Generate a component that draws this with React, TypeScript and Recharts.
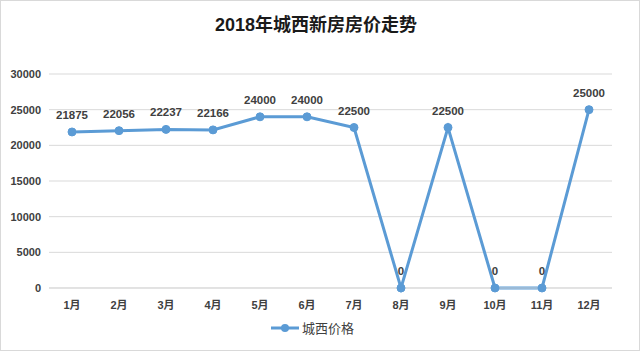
import React from 'react';
import {
    LineChart,
    Line,
    XAxis,
    YAxis,
    CartesianGrid,
    Legend,
    LabelList,
} from 'recharts';

const months = ['1月', '2月', '3月', '4月', '5月', '6月', '7月', '8月', '9月', '10月', '11月', '12月'];
const prices = [21875, 22056, 22237, 22166, 24000, 24000, 22500, 0, 22500, 0, 0, 25000];
const yTicks = [0, 5000, 10000, 15000, 20000, 25000, 30000];

const data = months.map((month, i) => ({ month, price: prices[i] }));

const FONT = '"Liberation Sans", "Noto Sans CJK SC", sans-serif';
const BLUE = '#5b9bd5';
const TEXT = '#404040';

const LegendContent = () => (
    <div
        style={{
            display: 'flex',
            alignItems: 'center',
            justifyContent: 'center',
            gap: 3,
            fontFamily: FONT,
            paddingLeft: 12,
        }}
    >
        <svg width={28} height={10}>
            <line x1={0} y1={5} x2={28} y2={5} stroke={BLUE} strokeWidth={3} />
            <circle cx={14} cy={5} r={4} fill={BLUE} />
        </svg>
        <span style={{ fontSize: 13, color: TEXT }}>城西价格</span>
    </div>
);

export default function App() {
    return (
        <div
            style={{
                position: 'absolute',
                top: 0,
                left: 0,
                width: 638,
                height: 349,
                border: '1px solid #d9d9d9',
                background: '#fff',
                fontFamily: FONT,
            }}
        >
            <div
                style={{
                    position: 'absolute',
                    top: 9,
                    left: 0,
                    width: 630,
                    textAlign: 'center',
                    fontSize: 18,
                    fontWeight: 'bold',
                    color: '#1a1a1a',
                }}
            >
                2018年城西新房房价走势
            </div>
            <LineChart
                width={638}
                height={349}
                data={data}
                margin={{ top: 73, right: 27, left: 0, bottom: 8 }}
            >
                <CartesianGrid vertical={false} stroke="#d9d9d9" />
                <XAxis
                    dataKey="month"
                    tickLine={false}
                    axisLine={{ stroke: '#d9d9d9' }}
                    tick={{ fill: TEXT, fontSize: 11, fontWeight: 'bold', fontFamily: FONT }}
                    tickMargin={7}
                    height={30}
                    interval={0}
                    padding={{ left: 23, right: 23 }}
                />
                <YAxis
                    width={48}
                    domain={[0, 30000]}
                    ticks={yTicks}
                    tickLine={false}
                    axisLine={false}
                    tick={{ fill: TEXT, fontSize: 11, fontWeight: 'bold', fontFamily: FONT }}
                />
                <Legend verticalAlign="bottom" height={24} content={() => <LegendContent />} />
                <Line
                    type="linear"
                    dataKey="price"
                    stroke={BLUE}
                    strokeWidth={3}
                    dot={{ r: 4, fill: BLUE, stroke: BLUE, strokeWidth: 1 }}
                    isAnimationActive={false}
                >
                    <LabelList
                        dataKey="price"
                        position="top"
                        offset={13}
                        style={{ fill: TEXT, fontSize: 11.5, fontWeight: 'bold', fontFamily: FONT }}
                    />
                </Line>
            </LineChart>
        </div>
    );
}
